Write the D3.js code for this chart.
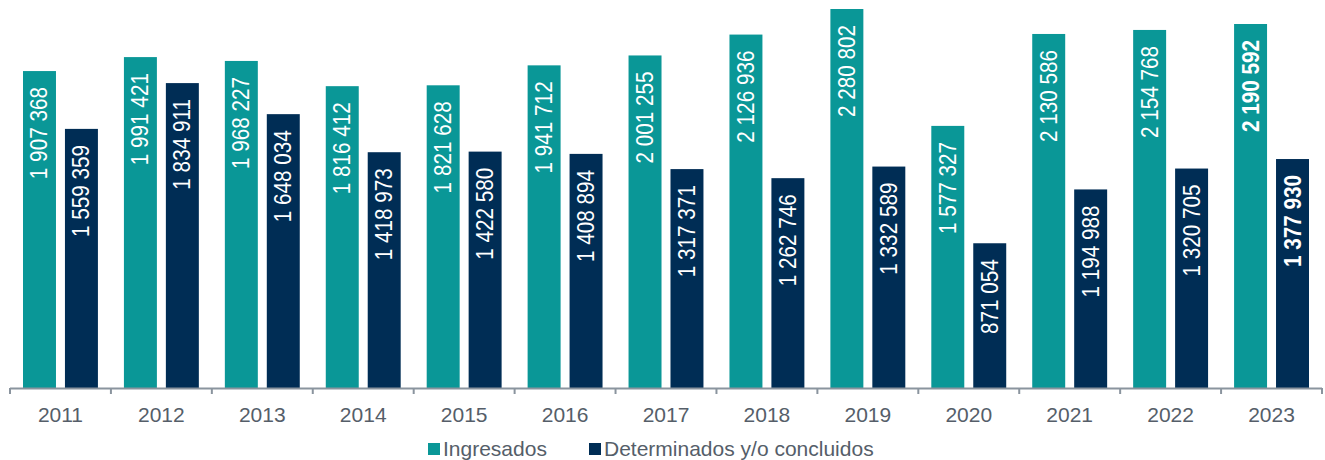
<!DOCTYPE html>
<html>
<head>
<meta charset="utf-8">
<script src="https://cdn.jsdelivr.net/npm/d3@7"></script>
<style>
  body { margin: 0; background: #fff; }
  svg { display: block; font-family: "Liberation Sans", Arial, sans-serif; }
</style>
</head>
<body>
<svg width="1325" height="460"></svg>
<script>
var years = ["2011", "2012", "2013", "2014", "2015", "2016", "2017", "2018", "2019", "2020", "2021", "2022", "2023"];
var ingresados = [1907368, 1991421, 1968227, 1816412, 1821628, 1941712, 2001255, 2126936, 2280802, 1577327, 2130586, 2154768, 2190592];
var determinados = [1559359, 1834911, 1648034, 1418973, 1422580, 1408894, 1317371, 1262746, 1332589, 871054, 1194988, 1320705, 1377930];
var seriesNames = ["Ingresados", "Determinados y/o concluidos"];
var colors = ["#0A9797", "#002D55"];

var svg = d3.select("svg");
var margin = {"top": 0, "left": 10, "right": 3, "baseline": 388};

var fmt = d3.formatLocale({"decimal": ",", "thousands": " ", "grouping": [3], "currency": ["", ""]}).format(",d");

var data = years.map(function (y, i) {
    return {year: y, values: [ingresados[i], determinados[i]], last: i === years.length - 1};
});

var x0 = d3.scaleBand().domain(years).range([margin.left, 1325 - margin.right]).paddingInner(0).paddingOuter(0);
var x1 = d3.scaleBand().domain([0, 1]).range([0, x0.bandwidth()]).paddingInner(0.214).paddingOuter(0.31);
var y = d3.scaleLinear().domain([0, 2335000]).range([margin.baseline, 0]);

var groups = svg.selectAll(".grp")
    .data(data)
    .enter().append("g")
    .attr("class", "grp")
    .attr("transform", function (d) { return "translate(" + x0(d.year) + ",0)"; });

var bars = groups.selectAll(".bar")
    .data(function (d) {
        return d.values.map(function (v, k) { return {k: k, v: v, last: d.last}; });
    })
    .enter();

bars.append("rect")
    .attr("class", "bar")
    .attr("x", function (d) { return x1(d.k); })
    .attr("y", function (d) { return y(d.v); })
    .attr("width", x1.bandwidth())
    .attr("height", function (d) { return y(0) - y(d.v); })
    .attr("fill", function (d) { return colors[d.k]; });

bars.append("text")
    .attr("transform", function (d) {
        var cx = x1(d.k) + x1.bandwidth() / 2 + 8;
        var ty = y(d.v) + 16;
        return "translate(" + cx + "," + ty + ") rotate(-90) scale(0.9,1)";
    })
    .attr("text-anchor", "end")
    .attr("fill", "#fff")
    .attr("font-size", 23)
    .attr("font-weight", function (d) { return d.last ? "bold" : "normal"; })
    .text(function (d) { return fmt(d.v); });

// axis
var axisColor = "#8A949E";
svg.append("line")
    .attr("x1", x0.range()[0]).attr("x2", x0.range()[1])
    .attr("y1", margin.baseline + 0.5).attr("y2", margin.baseline + 0.5)
    .attr("stroke", axisColor).attr("stroke-width", 2);

var tickPos = years.map(function (yr) { return x0(yr); }).concat([x0.range()[1]]);
svg.selectAll(".tick")
    .data(tickPos)
    .enter().append("line")
    .attr("x1", function (d) { return d; }).attr("x2", function (d) { return d; })
    .attr("y1", margin.baseline).attr("y2", margin.baseline + 6)
    .attr("stroke", axisColor).attr("stroke-width", 2);

svg.selectAll(".ylab")
    .data(years)
    .enter().append("text")
    .attr("x", function (d) { return x0(d) + x0.bandwidth() / 2; })
    .attr("y", 422)
    .attr("text-anchor", "middle")
    .attr("font-size", 21)
    .attr("fill", "#555E69")
    .text(function (d) { return d; });

// legend
var legendX = [428, 589];
var legend = svg.selectAll(".leg")
    .data(seriesNames)
    .enter().append("g")
    .attr("transform", function (d, i) { return "translate(" + legendX[i] + ",443)"; });

legend.append("rect")
    .attr("width", 12).attr("height", 12)
    .attr("fill", function (d, i) { return colors[i]; });

legend.append("text")
    .attr("x", 15)
    .attr("y", 13)
    .attr("font-size", 21)
    .attr("fill", "#555E69")
    .text(function (d) { return d; });
</script>
</body>
</html>
